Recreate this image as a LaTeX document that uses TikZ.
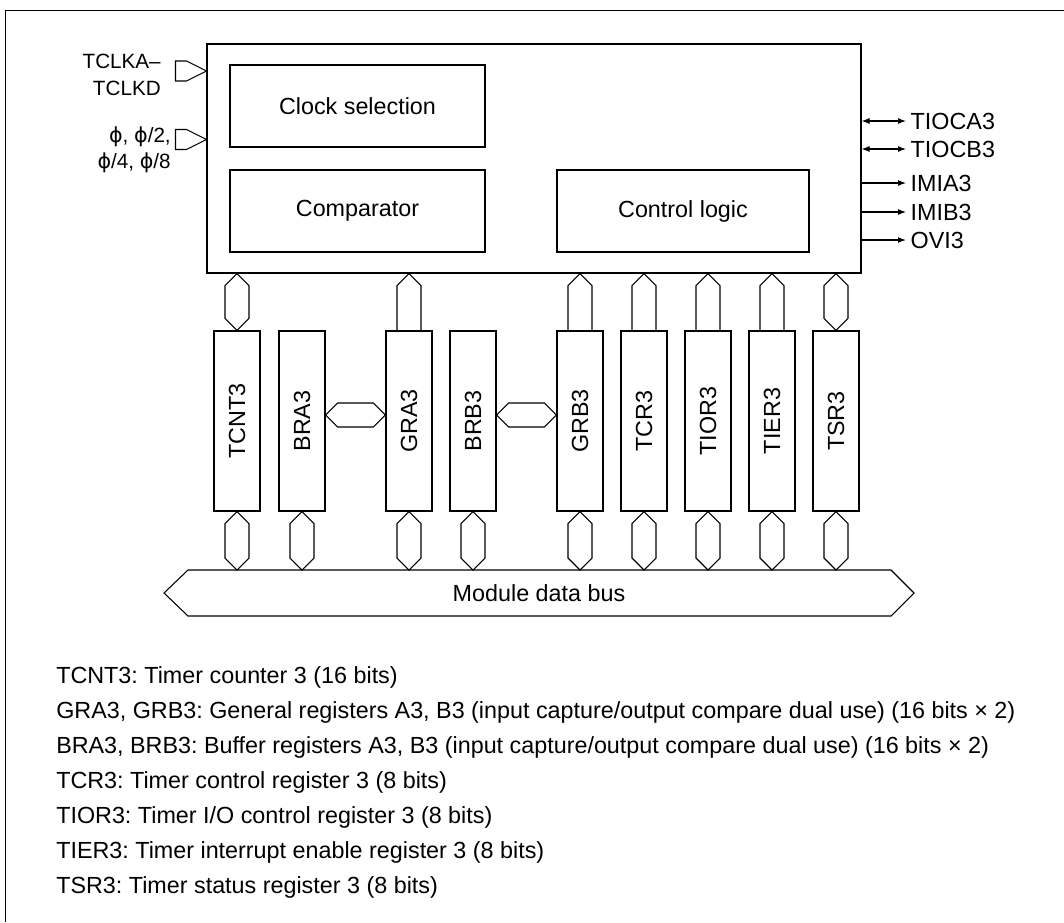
\documentclass[tikz,border=0pt]{standalone}
\usepackage{fontspec}
\setmainfont{Liberation Sans}
\newfontfamily\phifont{DejaVu Sans}
\usepackage{graphicx}
\usetikzlibrary{arrows.meta,calc}
\frenchspacing

% one pixel of the drawing
\def\px{0.75pt}
% stroked phi
\newcommand{\sphi}{{\phifont ϕ}}

% vertical two-way bus link, from top point to bottom point
\newcommand{\vhex}[2]{%
  \draw[conn] (#1) -- ($(#1)+(12,12)$) -- ($(#2)+(12,-12)$) -- (#2)
    -- ($(#2)+(-12,-12)$) -- ($(#1)+(-12,12)$) -- cycle;}
% one-way link pointing up
\newcommand{\uparr}[2]{%
  \draw[conn] ($(#2)+(-12,0)$) -- ($(#1)+(-12,12)$) -- (#1)
    -- ($(#1)+(12,12)$) -- ($(#2)+(12,0)$);}
% horizontal two-way link, from left point to right point
\newcommand{\hhex}[2]{%
  \draw[conn] (#1) -- ($(#1)+(12,-12)$) -- ($(#2)+(-12,-12)$) -- (#2)
    -- ($(#2)+(-12,12)$) -- ($(#1)+(12,12)$) -- cycle;}
% input pin, tip on the block edge
\newcommand{\inpin}[1]{%
  \draw[conn] (#1) -- ++(-20,10) -- ++(-11,0) -- ++(0,-20) -- ++(11,0) -- cycle;}

\begin{document}
\begin{tikzpicture}[x=0.75pt,y=-0.75pt,
  font=\fontsize{17.5}{21}\selectfont,
  box/.style={draw,line width=0.8pt,inner sep=0pt},
  conn/.style={line width=0.8pt,line join=miter},
  pinlbl/.style={anchor=base east,inner sep=0pt,font=\fontsize{15.5}{18}\selectfont},
  leg/.style={anchor=base west,inner sep=0pt},
  sig/.style={line width=0.8pt,-{Latex[length=6pt,width=4.5pt]}},
  bisig/.style={line width=0.8pt,{Latex[length=6pt,width=4.5pt]}-{Latex[length=6pt,width=4.5pt]}}]

% Canvas
\useasboundingbox (0,0) rectangle (1064,922);

% Outer frame
\draw[line width=0.6pt] (5,922) -- (5,10) -- (1064,10);

% Timer block and its parts
\node[box,minimum width=654*\px,minimum height=229*\px] (timer) at (534,158.5) {};
\node[box,minimum width=255*\px,minimum height=82*\px] (clksel) at (357.5,106) {Clock selection};
\node[box,minimum width=255*\px,minimum height=82*\px] (cmp) at (357.5,211) {Comparator};
\node[box,minimum width=252*\px,minimum height=82*\px] (ctrl) at (683,211) {Control logic};

% Clock inputs
\coordinate (pinA) at (timer.west |- 0,71);
\coordinate (pinB) at (timer.west |- 0,139.5);
\inpin{pinA}
\inpin{pinB}
\node[pinlbl] (tclka) at (161,68) {TCLKA–};
\node[pinlbl] (tclkd) at (161,95) {TCLKD};
\node[pinlbl] (phia) at (171,142) {\sphi, \sphi/2,};
\node[pinlbl] (phib) at (171,168) {\sphi/4, \sphi/8};

% Outputs
\node[anchor=west] (tioca) at (906,121) {TIOCA3};
\node[anchor=west] (tiocb) at (906,149) {TIOCB3};
\node[anchor=west] (imia) at (906,183) {IMIA3};
\node[anchor=west] (imib) at (906,212) {IMIB3};
\node[anchor=west] (ovi) at (906,240) {OVI3};
\draw[bisig] (timer.east |- tioca) -- (tioca.west);
\draw[bisig] (timer.east |- tiocb) -- (tiocb.west);
\draw[sig] (timer.east |- imia) -- (imia.west);
\draw[sig] (timer.east |- imib) -- (imib.west);
\draw[sig] (timer.east |- ovi) -- (ovi.west);

% Registers
\foreach \name/\x in {TCNT3/237,BRA3/302,GRA3/409,BRB3/473,GRB3/580,TCR3/644,TIOR3/708,TIER3/772,TSR3/836}
  \node[box,minimum width=46*\px,minimum height=180*\px] (\name) at (\x,421) {\rotatebox{90}{\name}};

% Links to the timer block
\foreach \name in {TCNT3,TSR3}{
  \coordinate (top) at (\name.north |- timer.south);
  \vhex{top}{\name.north}
}
\foreach \name in {GRA3,GRB3,TCR3,TIOR3,TIER3}{
  \coordinate (top) at (\name.north |- timer.south);
  \uparr{top}{\name.north}
}

% Buffer links
\coordinate (hmid) at (0,415);
\coordinate (ha) at (BRA3.east |- hmid);
\coordinate (hb) at (GRA3.west |- hmid);
\coordinate (hc) at (BRB3.east |- hmid);
\coordinate (hd) at (GRB3.west |- hmid);
\hhex{ha}{hb}
\hhex{hc}{hd}

% Module data bus
\coordinate (bustop) at (539,570);
\draw[conn] (164,593) -- (188,570) -- (891,570) -- (914,593) -- (891,616) -- (188,616) -- cycle;
\node (bus) at (539,593) {Module data bus};
\foreach \name in {TCNT3,BRA3,GRA3,BRB3,GRB3,TCR3,TIOR3,TIER3,TSR3}{
  \coordinate (bot) at (\name.south |- bustop);
  \vhex{\name.south}{bot}
}

% Legend
\node[leg] (leg1) at (56,683) {TCNT3: Timer counter 3 (16 bits)};
\node[leg] (leg2) at (56,718) {GRA3, GRB3: General registers A3, B3 (input capture/output compare dual use) (16 bits × 2)};
\node[leg] (leg3) at (56,753) {BRA3, BRB3: Buffer registers A3, B3 (input capture/output compare dual use) (16 bits × 2)};
\node[leg] (leg4) at (56,788) {TCR3: Timer control register 3 (8 bits)};
\node[leg] (leg5) at (56,823) {TIOR3: Timer I/O control register 3 (8 bits)};
\node[leg] (leg6) at (56,858) {TIER3: Timer interrupt enable register 3 (8 bits)};
\node[leg] (leg7) at (56,893) {TSR3: Timer status register 3 (8 bits)};

\end{tikzpicture}
\end{document}
